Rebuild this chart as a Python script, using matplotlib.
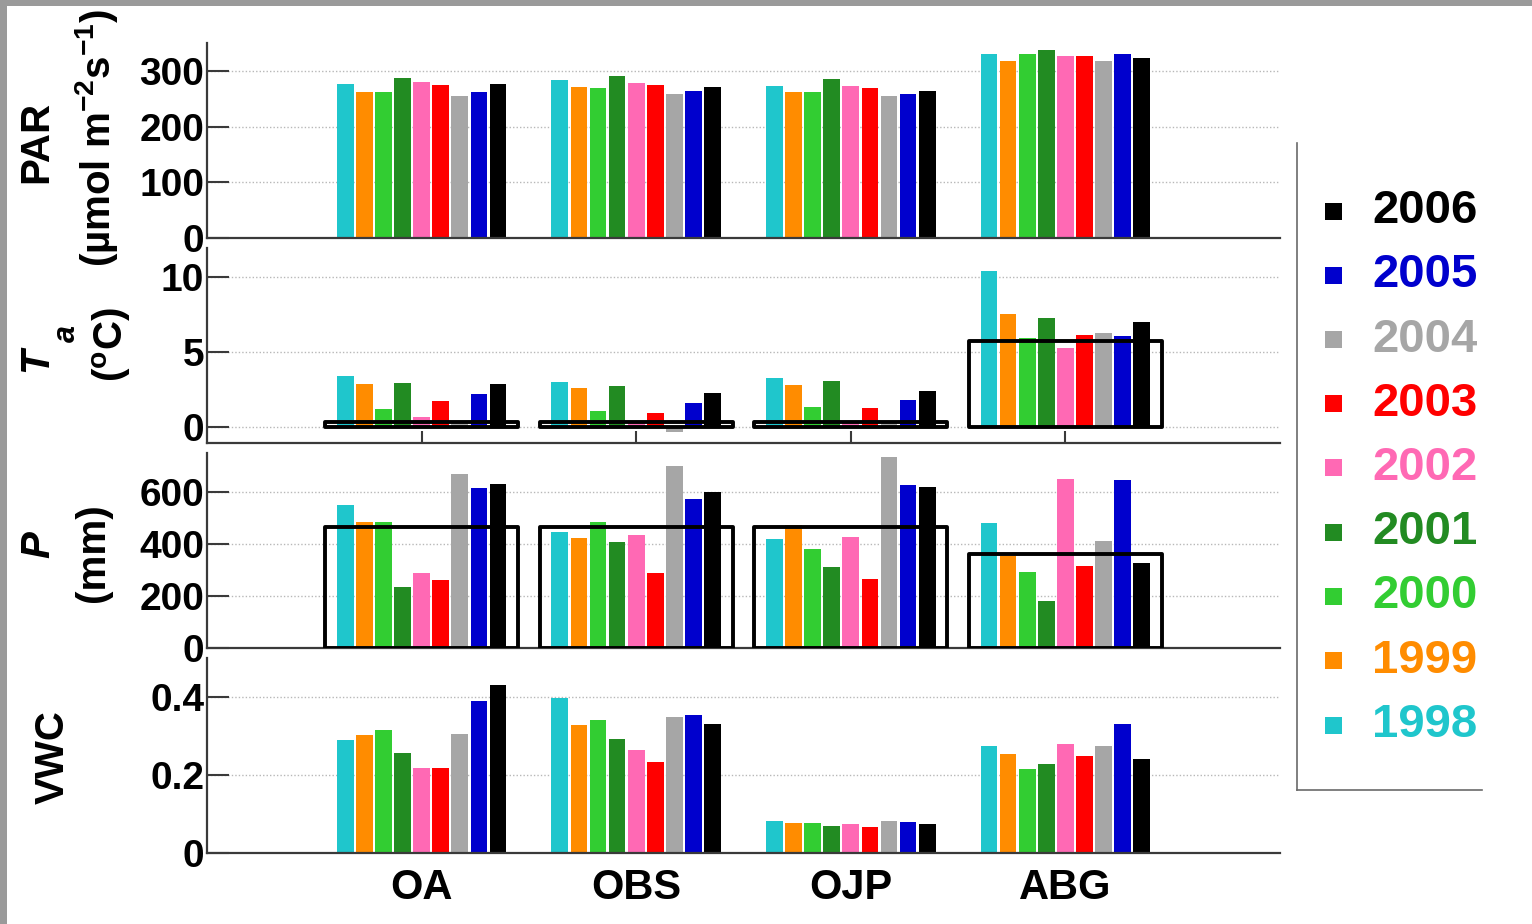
import matplotlib
matplotlib.use("Agg")
import matplotlib.pyplot as plt
from matplotlib.patches import Rectangle
from matplotlib.lines import Line2D
import numpy as np

plt.rcParams['font.family'] = ['Liberation Sans', 'DejaVu Sans']
plt.rcParams['font.weight'] = 'bold'
plt.rcParams['mathtext.fontset'] = 'custom'
plt.rcParams['mathtext.rm'] = 'Liberation Sans:bold'
plt.rcParams['mathtext.it'] = 'Liberation Sans:bold:italic'
plt.rcParams['mathtext.bf'] = 'Liberation Sans:bold'

# ---- data -------------------------------------------------------------
sites = ["OA", "OBS", "OJP", "ABG"]
years = ["1998", "1999", "2000", "2001", "2002", "2003", "2004", "2005", "2006"]
colors = ["#1fc6cc", "#ff8c00", "#32cd32", "#228b22", "#ff69b4",
          "#ff0000", "#a6a6a6", "#0000cd", "#000000"]

# rows = sites, columns = years
par = [[276, 262, 262, 287, 280, 275, 255, 262, 276],
       [284, 271, 269, 291, 278, 275, 259, 264, 271],
       [273, 262, 262, 285, 273, 269, 255, 259, 264],
       [330, 318, 330, 338, 327, 327, 318, 330, 323]]
ta = [[3.4, 2.9, 1.2, 2.95, 0.7, 1.75, 0.3, 2.25, 2.9],
      [3.0, 2.6, 1.1, 2.75, 0.3, 0.95, -0.3, 1.6, 2.3],
      [3.25, 2.8, 1.35, 3.1, 0.3, 1.3, 0.3, 1.8, 2.45],
      [10.4, 7.5, 5.95, 7.25, 5.25, 6.15, 6.25, 6.05, 7.0]]
precip = [[551, 485, 488, 237, 289, 263, 671, 618, 631],
          [449, 424, 488, 410, 436, 291, 702, 574, 603],
          [421, 475, 381, 312, 430, 266, 735, 629, 620],
          [484, 355, 292, 183, 653, 318, 413, 649, 329]]
vwc = [[0.291, 0.302, 0.316, 0.256, 0.218, 0.218, 0.306, 0.389, 0.430],
       [0.397, 0.329, 0.342, 0.292, 0.263, 0.233, 0.349, 0.355, 0.330],
       [0.082, 0.077, 0.077, 0.069, 0.074, 0.066, 0.081, 0.080, 0.075],
       [0.274, 0.255, 0.216, 0.229, 0.279, 0.249, 0.274, 0.330, 0.242]]

# long-term normals (outlined boxes)
ta_normal = [0.38, 0.38, 0.38, 5.75]
precip_normal = [468, 467, 467, 365]

# ---- figure -----------------------------------------------------------
W, H = 1532, 924
fig = plt.figure(figsize=(W / 100, H / 100), dpi=100)
fig.patch.set_facecolor("white")


def px_rect(left, top, right, bottom):
    return [left / W, 1 - bottom / H, (right - left) / W, (bottom - top) / H]


panels = [
    dict(data=par, rect=px_rect(207, 43, 1280, 238), ylim=(0, 350),
         yticks=[0, 100, 200, 300], ylabels=["0", "100", "200", "300"], normal=None),
    dict(data=ta, rect=px_rect(207, 248, 1280, 443), ylim=(-1.03, 11.9),
         yticks=[0, 5, 10], ylabels=["0", "5", "10"], normal=ta_normal),
    dict(data=precip, rect=px_rect(207, 453, 1280, 648.3), ylim=(0, 752),
         yticks=[0, 200, 400, 600], ylabels=["0", "200", "400", "600"], normal=precip_normal),
    dict(data=vwc, rect=px_rect(207, 658, 1280, 853), ylim=(0, 0.5),
         yticks=[0, 0.2, 0.4], ylabels=["0", "0.2", "0.4"], normal=None),
]

centers = np.arange(1, len(sites) + 1)
step = 0.089
bar_w = 0.078
box_half = 0.449
spine_c = "#3a3a3a"

axes = []
for k, p in enumerate(panels):
    ax = fig.add_axes(p["rect"])
    axes.append(ax)
    vals = np.array(p["data"])
    for j, (yr, col) in enumerate(zip(years, colors)):
        ax.bar(centers + (j - 4) * step, vals[:, j], width=bar_w, color=col,
               edgecolor="none", zorder=2)
    if p["normal"] is not None:
        for c, n in zip(centers, p["normal"]):
            ax.add_patch(Rectangle((c - box_half, 0), 2 * box_half, n, fill=False,
                                   lw=2.8, edgecolor="black", joinstyle="round",
                                   zorder=3))
    ax.set_xlim(0, 5)
    ax.set_ylim(*p["ylim"])
    ax.set_yticks(p["yticks"])
    ax.set_yticklabels(p["ylabels"])
    ax.set_xticks(centers)
    if k == len(panels) - 1:
        ax.set_xticklabels(sites)
    else:
        ax.set_xticklabels([])
    ax.tick_params(axis="y", direction="in", length=16, width=1.5, color=spine_c,
                   labelsize=28, pad=2)
    ax.tick_params(axis="x", direction="in", length=9, width=1.5, color=spine_c,
                   labelsize=30, pad=11)
    ax.yaxis.grid(True, linestyle=(0, (1, 1.5)), color="#b8b8b8", lw=1.0, zorder=0)
    ax.set_axisbelow(True)
    for s in ["top", "right"]:
        ax.spines[s].set_visible(False)
    for s in ["left", "bottom"]:
        ax.spines[s].set_color(spine_c)
        ax.spines[s].set_linewidth(1.6)
    ax.set_facecolor("none")


def ftext(x, y, s, **kw):
    fig.text(x / W, 1 - y / H, s, rotation=90, ha="center", va="center",
             fontweight="bold", **kw)


# y-axis labels
ftext(36, 142, "PAR", fontsize=29)
ftext(97, 138, "(µmol m$^{-2}$s$^{-1}$)", fontsize=29)
ftext(36, 360, "T", fontsize=29, style="italic")
ftext(67, 333, "a", fontsize=22, style="italic")
ftext(112, 345, "($^{\\mathrm{o}}$C)", fontsize=29)
ftext(38, 545, "P", fontsize=29, style="italic")
ftext(93, 553, "(mm)", fontsize=29)
ftext(53, 757, "VWC", fontsize=29)

# legend (newest year on top)
row0, row_step = 211, 64.25
for i, (yr, col) in enumerate(zip(years[::-1], colors[::-1])):
    yc = row0 + i * row_step
    sq = 17
    fig.patches.append(Rectangle(((1333 - sq / 2) / W, 1 - (yc + sq / 2) / H),
                                 sq / W, sq / H, transform=fig.transFigure,
                                 facecolor=col, edgecolor="none"))
    fig.text(1372 / W, 1 - yc / H, yr, color=col, fontsize=34, fontweight="bold",
             ha="left", va="center")
fig.lines.append(Line2D([1297 / W, 1297 / W], [1 - 143 / H, 1 - 790 / H],
                        transform=fig.transFigure, color="#6a6a6a", lw=1.2))
fig.lines.append(Line2D([1297 / W, 1482 / W], [1 - 790 / H, 1 - 790 / H],
                        transform=fig.transFigure, color="#6a6a6a", lw=1.2))

# grey frame strips along the top and left edges
fig.patches.append(Rectangle((0, 1 - 6 / H), 1, 6 / H, transform=fig.transFigure,
                             facecolor="#9a9a9a", edgecolor="none", zorder=10))
fig.patches.append(Rectangle((0, 0), 7 / W, 1, transform=fig.transFigure,
                             facecolor="#9a9a9a", edgecolor="none", zorder=10))

fig.savefig("out.png", dpi=100)
